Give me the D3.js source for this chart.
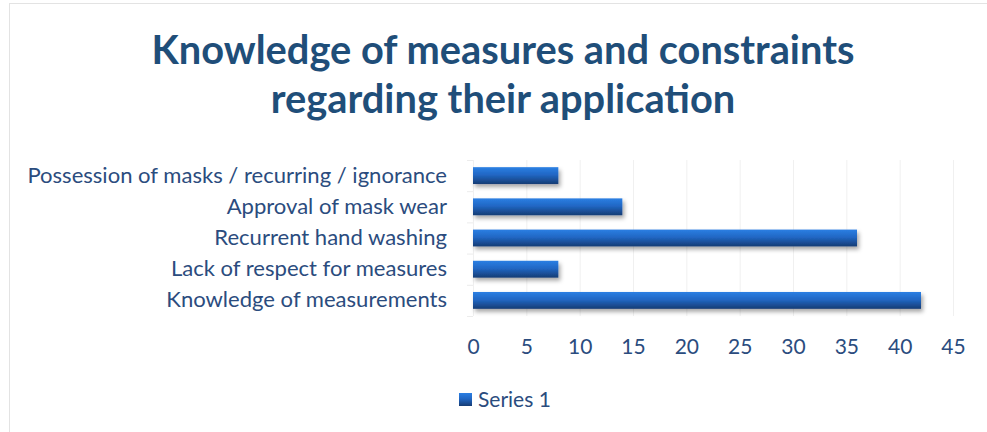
<!DOCTYPE html>
<html>
<head>
<meta charset="utf-8">
<script src="https://cdn.jsdelivr.net/npm/d3@7"></script>
<style>
    body { margin: 0; background: #fff; }
    svg { display: block; }
</style>
</head>
<body>
<svg width="987" height="432"></svg>
<script>
const svg = d3.select("svg");

const width = 987;
const height = 432;

// chart data, top to bottom as drawn
const categories = [
    "Possession of masks / recurring / ignorance",
    "Approval of mask wear",
    "Recurrent hand washing",
    "Lack of respect for measures",
    "Knowledge of measurements"
];
const series1 = [8, 14, 36, 8, 42];
const xTicks = [0, 5, 10, 15, 20, 25, 30, 35, 40, 45];
const titleLines = ["Knowledge of measures and constraints", "regarding their application"];
const seriesName = "Series 1";

const margin = { top: 160, right: 34, bottom: 116, left: 473 };

const textColor = "#2b4c7e";
const titleColor = "#1f4e79";

// frame of the chart area
svg.append("rect")
    .attr("x", 9.5)
    .attr("y", 3.5)
    .attr("width", 1000)
    .attr("height", 500)
    .attr("fill", "#fff")
    .attr("stroke", "#e3e3e3");

const defs = svg.append("defs");

const grad = defs.append("linearGradient")
    .attr("id", "barGrad")
    .attr("x1", 0).attr("y1", 0)
    .attr("x2", 0).attr("y2", 1);
grad.append("stop").attr("offset", "0%").attr("stop-color", "#2b7fe3");
grad.append("stop").attr("offset", "45%").attr("stop-color", "#2167c4");
grad.append("stop").attr("offset", "100%").attr("stop-color", "#163c74");

const shadow = defs.append("filter")
    .attr("id", "shadow")
    .attr("x", "-5%").attr("y", "-30%")
    .attr("width", "115%").attr("height", "190%");
shadow.append("feDropShadow")
    .attr("dx", 2)
    .attr("dy", 3)
    .attr("stdDeviation", 2)
    .attr("flood-color", "#000")
    .attr("flood-opacity", 0.35);

const xScale = d3.scaleLinear()
    .domain([0, 45])
    .range([margin.left, width - margin.right]);

const yScale = d3.scaleBand()
    .domain(categories)
    .range([margin.top, height - margin.bottom])
    .paddingInner(0.46)
    .paddingOuter(0.23);

// vertical gridlines
svg.append("g")
    .selectAll("line")
    .data(xTicks)
    .join("line")
    .attr("x1", d => xScale(d) + 0.5)
    .attr("x2", d => xScale(d) + 0.5)
    .attr("y1", margin.top)
    .attr("y2", height - margin.bottom)
    .attr("stroke", "#f0f0f0");

// small ticks on the category axis
const step = yScale.step();
svg.append("g")
    .selectAll("line")
    .data(d3.range(categories.length + 1))
    .join("line")
    .attr("x1", margin.left - 6)
    .attr("x2", margin.left)
    .attr("y1", i => margin.top + i * step + 0.5)
    .attr("y2", i => margin.top + i * step + 0.5)
    .attr("stroke", "#ececec");

// bars
svg.append("g")
    .selectAll("rect")
    .data(categories)
    .join("rect")
    .attr("x", xScale(0))
    .attr("y", d => yScale(d))
    .attr("width", (d, i) => xScale(series1[i]) - xScale(0))
    .attr("height", yScale.bandwidth())
    .attr("fill", "url(#barGrad)")
    .attr("filter", "url(#shadow)");

// category labels
const yAxis = d3.axisLeft(yScale).tickSize(0).tickPadding(26);
const yG = svg.append("g")
    .attr("transform", `translate(${margin.left}, 0)`)
    .call(yAxis);
yG.select(".domain").remove();
yG.selectAll("text")
    .attr("fill", textColor)
    .attr("font-family", "Lato, 'Open Sans', sans-serif")
    .attr("font-size", 20);

// x tick labels
const xAxis = d3.axisBottom(xScale).tickValues(xTicks).tickSize(0).tickPadding(23);
const xG = svg.append("g")
    .attr("transform", `translate(0, ${height - margin.bottom})`)
    .call(xAxis);
xG.select(".domain").remove();
xG.selectAll("text")
    .attr("fill", textColor)
    .attr("font-family", "Lato, 'Open Sans', sans-serif")
    .attr("font-size", 21);

// title
const title = svg.append("text")
    .attr("text-anchor", "middle")
    .attr("fill", titleColor)
    .attr("font-family", "Lato, 'Open Sans', sans-serif")
    .attr("font-weight", "bold")
    .attr("font-size", 36);
title.selectAll("tspan")
    .data(titleLines)
    .join("tspan")
    .attr("x", 503)
    .attr("y", (d, i) => 64 + i * 49)
    .text(d => d);

// shrink title to the reference width
const tw = title.select("tspan").node().getComputedTextLength();
title.attr("font-size", 36 * 703 / tw);

// shrink labels so the longest fits the reference width
let longest = 0;
yG.selectAll("text").each(function() {
    longest = Math.max(longest, this.getComputedTextLength());
});
yG.selectAll("text").attr("font-size", 20 * 420 / longest);

// legend
const legend = svg.append("g")
    .attr("transform", "translate(459, 393)");
legend.append("rect")
    .attr("width", 13)
    .attr("height", 13)
    .attr("fill", "url(#barGrad)");
legend.append("text")
    .attr("x", 19)
    .attr("y", 7)
    .attr("dy", "0.35em")
    .attr("fill", textColor)
    .attr("font-family", "Lato, 'Open Sans', sans-serif")
    .attr("font-size", 21)
    .text(seriesName);
</script>
</body>
</html>
